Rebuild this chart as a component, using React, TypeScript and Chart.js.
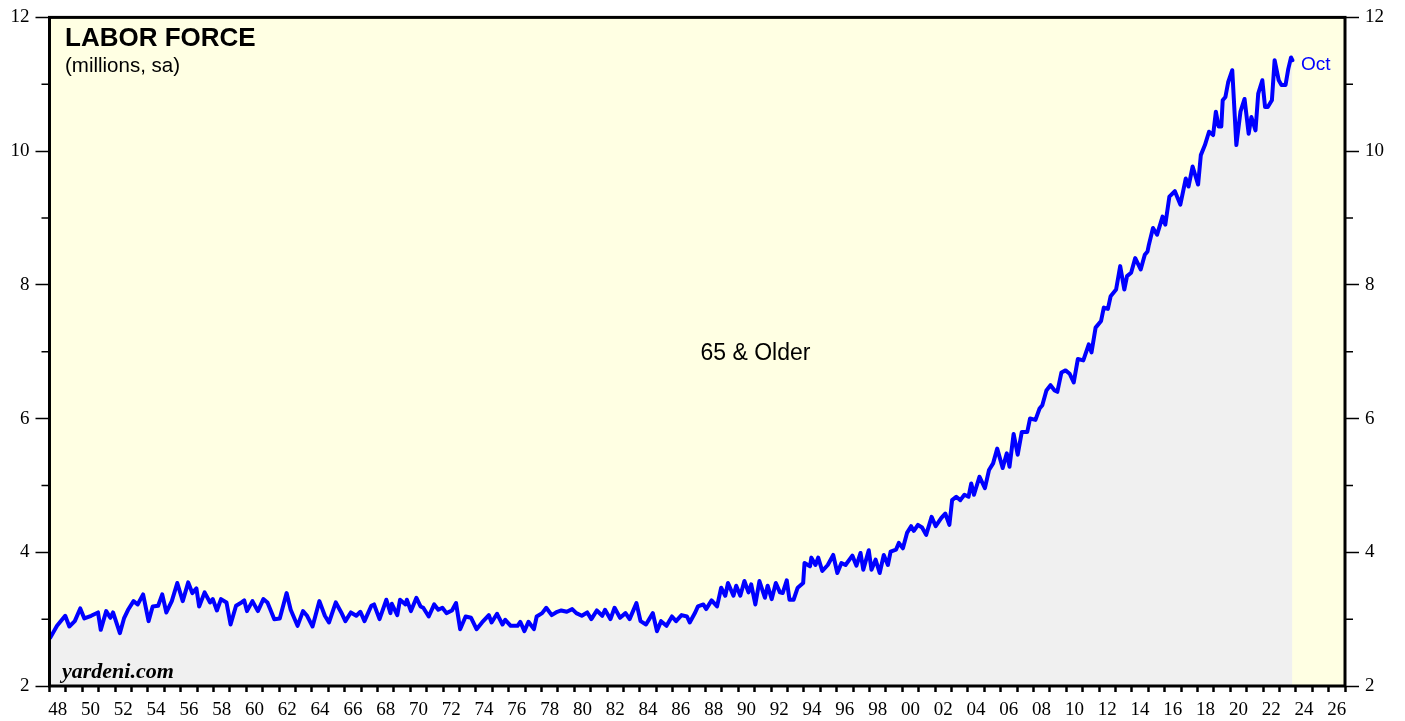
import React, { useEffect, useRef } from "react";
import { Chart, registerables } from "chart.js";

Chart.register(...registerables);

// ---- Data ----
const months: string[] = [
  "1948-01","1948-06","1948-12","1949-03","1949-07","1949-11","1950-02","1950-07","1950-12",
  "1951-02","1951-06","1951-09","1951-11","1952-04","1952-07","1952-10","1953-02","1953-05","1953-09",
  "1954-01","1954-04","1954-08","1954-11","1955-02","1955-06","1955-10","1956-02","1956-06","1956-09","1956-12",
  "1957-02","1957-06","1957-10","1957-12","1958-03","1958-06","1958-10","1959-01","1959-05","1959-09","1959-11",
  "1960-01","1960-05","1960-09","1961-01","1961-04","1961-09","1962-01","1962-06","1962-09",
  "1963-02","1963-06","1963-09","1964-01","1964-06","1964-10","1965-01","1965-06","1965-10",
  "1966-01","1966-05","1966-09","1966-12","1967-03","1967-08","1967-10",
  "1968-02","1968-07","1968-10","1968-11","1969-03","1969-05","1969-09","1969-10",
  "1970-01","1970-05","1970-08","1970-10","1971-02","1971-06","1971-09","1971-12",
  "1972-03","1972-07","1972-10","1973-01","1973-05","1973-09","1974-01","1974-05","1974-10","1974-12",
  "1975-04","1975-08","1975-10","1976-02","1976-07","1976-09","1976-12","1977-03","1977-07","1977-09",
  "1978-01","1978-04","1978-08","1978-12","1979-03","1979-07","1979-11","1980-02","1980-06","1980-10",
  "1981-01","1981-05","1981-09","1981-11","1982-03","1982-06","1982-10","1983-02","1983-05","1983-10",
  "1984-01","1984-05","1984-10","1985-01","1985-04","1985-08","1985-12","1986-03","1986-07","1986-11",
  "1987-01","1987-05","1987-07","1987-11","1988-01","1988-05","1988-09","1988-12",
  "1989-03","1989-05","1989-09","1989-11","1990-02","1990-05","1990-08","1990-10",
  "1991-01","1991-04","1991-08","1991-10","1992-01","1992-04","1992-07","1992-09","1992-12",
  "1993-02","1993-05","1993-08","1993-12","1994-01","1994-05","1994-06","1994-09","1994-11",
  "1995-02","1995-06","1995-10","1996-01","1996-04","1996-07","1996-12","1997-03","1997-06","1997-08","1997-12",
  "1998-02","1998-05","1998-08","1998-11","1999-02","1999-04","1999-08","1999-10",
  "2000-01","2000-04","2000-07","2000-09","2000-12","2001-03","2001-06","2001-10",
  "2002-01","2002-05","2002-08","2002-11","2003-01","2003-04","2003-07","2003-10",
  "2004-01","2004-03","2004-05","2004-09","2005-01","2005-04","2005-07","2005-10",
  "2006-02","2006-05","2006-07","2006-10","2007-01","2007-04","2007-08","2007-10",
  "2008-02","2008-05","2008-07","2008-10","2009-01","2009-04","2009-06","2009-09","2009-12",
  "2010-03","2010-06","2010-09","2011-01","2011-05","2011-07","2011-10",
  "2012-02","2012-04","2012-07","2012-09","2013-01","2013-04","2013-07","2013-09","2013-12",
  "2014-03","2014-07","2014-10","2014-12","2015-01","2015-04","2015-07","2015-11",
  "2016-01","2016-04","2016-08","2016-12","2017-04","2017-06","2017-09",
  "2018-01","2018-03","2018-06","2018-09","2018-12","2019-02","2019-04","2019-06","2019-07","2019-09","2019-11",
  "2020-02","2020-05","2020-08","2020-11","2021-02","2021-04","2021-07","2021-09","2021-12",
  "2022-02","2022-04","2022-07","2022-09","2022-12","2023-02","2023-05","2023-07","2023-09","2023-10",
];

const values: number[] = [
  2.72,2.90,3.05,2.89,2.97,3.16,3.01,3.05,3.10,
  2.84,3.12,3.02,3.10,2.79,3.01,3.14,3.27,3.22,3.37,
  2.97,3.19,3.20,3.37,3.10,3.27,3.54,3.27,3.55,3.39,3.46,
  3.19,3.40,3.25,3.30,3.13,3.30,3.25,2.92,3.20,3.25,3.28,
  3.12,3.27,3.12,3.30,3.25,3.00,3.01,3.39,3.14,
  2.90,3.12,3.05,2.89,3.27,3.05,2.95,3.25,3.10,
  2.97,3.10,3.05,3.11,2.97,3.20,3.22,
  3.00,3.29,3.09,3.23,3.06,3.29,3.22,3.29,
  3.12,3.32,3.19,3.17,3.04,3.22,3.14,3.17,
  3.09,3.13,3.24,2.85,3.04,3.02,2.85,2.95,3.06,2.95,
  3.08,2.92,2.99,2.90,2.90,2.96,2.82,2.96,2.85,3.04,
  3.09,3.17,3.06,3.11,3.13,3.11,3.15,3.09,3.05,3.10,
  3.00,3.13,3.05,3.14,3.00,3.17,3.02,3.09,3.00,3.24,
  2.97,2.92,3.09,2.82,2.97,2.90,3.04,2.97,3.06,3.04,
  2.95,3.10,3.19,3.22,3.15,3.28,3.19,3.47,
  3.35,3.54,3.35,3.50,3.35,3.57,3.40,3.52,
  3.22,3.57,3.32,3.50,3.30,3.54,3.40,3.39,3.58,
  3.29,3.29,3.47,3.54,3.84,3.79,3.92,3.81,3.92,
  3.72,3.81,3.96,3.69,3.84,3.81,3.95,3.80,3.99,3.74,4.03,
  3.74,3.89,3.69,3.96,3.81,4.01,4.04,4.14,
  4.06,4.29,4.39,4.32,4.41,4.37,4.26,4.53,
  4.39,4.51,4.58,4.41,4.78,4.83,4.78,4.86,
  4.83,5.03,4.86,5.13,4.96,5.23,5.33,5.55,
  5.26,5.48,5.28,5.77,5.46,5.80,5.80,6.00,
  5.98,6.15,6.20,6.42,6.50,6.42,6.40,6.69,6.72,
  6.67,6.54,6.89,6.87,7.11,6.99,7.36,
  7.46,7.66,7.64,7.83,7.93,8.28,7.93,8.13,8.18,
  8.40,8.23,8.45,8.50,8.60,8.85,8.75,9.02,
  8.90,9.32,9.40,9.20,9.59,9.47,9.77,
  9.50,9.94,10.09,10.29,10.24,10.59,10.37,10.37,10.76,10.81,11.03,
  11.21,10.09,10.59,10.78,10.26,10.51,10.31,10.86,11.06,
  10.66,10.66,10.76,11.36,11.06,10.99,10.99,11.23,11.40,11.36,
];

const yMajorTicks = [2, 4, 6, 8, 10, 12];
const yMinorTicks = [3, 5, 7, 9, 11];
const xStartYear = 1948;
const xEndYear = 2027;

const titleText = "LABOR FORCE";
const subtitleText = "(millions, sa)";
const seriesLabel = "65 & Older";
const lastLabel = "Oct";
const creditText = "yardeni.com";

const toYear = (m: string) => {
  const [y, mo] = m.split("-").map(Number);
  return y + (mo - 0.5) / 12;
};

export default function App() {
  const ref = useRef<HTMLCanvasElement>(null);

  useEffect(() => {
    const canvas = ref.current;
    if (!canvas) return;
    const serif = "'Liberation Serif', 'Times New Roman', serif";
    const sans = "'Liberation Sans', Arial, sans-serif";

    const decor = {
      id: "decor",
      beforeDraw(chart: any) {
        const { ctx, chartArea: a } = chart;
        ctx.save();
        ctx.fillStyle = "#ffffe3";
        ctx.fillRect(a.left, a.top, a.right - a.left, a.bottom - a.top);
        ctx.restore();
      },
      afterDraw(chart: any) {
        const { ctx, chartArea: a, scales } = chart;
        const xs = scales.x;
        const ys = scales.y;
        ctx.save();
        ctx.strokeStyle = "#000";
        ctx.lineWidth = 1.5;
        for (const v of yMinorTicks) {
          const py = ys.getPixelForValue(v);
          ctx.beginPath();
          ctx.moveTo(a.left - 8, py);
          ctx.lineTo(a.left, py);
          ctx.moveTo(a.right, py);
          ctx.lineTo(a.right + 8, py);
          ctx.stroke();
        }
        ctx.lineWidth = 3;
        ctx.strokeRect(a.left, a.top, a.right - a.left, a.bottom - a.top);

        ctx.fillStyle = "#000";
        ctx.textAlign = "left";
        ctx.textBaseline = "alphabetic";
        ctx.font = `bold 26px ${sans}`;
        ctx.fillText(titleText, a.left + 15.5, a.top + 29);
        ctx.font = `20.5px ${sans}`;
        ctx.fillText(subtitleText, a.left + 15.5, a.top + 55);

        ctx.font = `23px ${sans}`;
        ctx.textAlign = "center";
        ctx.fillText(seriesLabel, xs.getPixelForValue(1991.05), ys.getPixelForValue(6.88));

        ctx.textAlign = "left";
        ctx.font = `bold italic 22px ${serif}`;
        ctx.fillText(creditText, a.left + 12.5, a.bottom - 8);

        const lastX = xs.getPixelForValue(toYear(months[months.length - 1]));
        const lastY = ys.getPixelForValue(values[values.length - 1]);
        ctx.fillStyle = "#0000ff";
        ctx.font = `19px ${sans}`;
        ctx.fillText(lastLabel, lastX + 8.5, lastY + 10);
        ctx.restore();
      },
    };

    const yAxis = (position: "left" | "right", width: number) => ({
      type: "linear" as const,
      position,
      min: 2,
      max: 12,
      afterBuildTicks: (s: any) => {
        s.ticks = yMajorTicks.map((v) => ({ value: v }));
      },
      afterFit: (s: any) => {
        s.width = width;
      },
      grid: { drawOnChartArea: false, tickLength: 14, tickWidth: 1.5, tickColor: "#000" },
      border: { display: false },
      ticks: { padding: 6, color: "#000", font: { family: serif, size: 19 } },
    });

    const chart = new Chart(canvas, {
      type: "line",
      data: {
        datasets: [
          {
            label: seriesLabel,
            data: months.map((m, i) => ({ x: toYear(m), y: values[i] })),
            borderColor: "#0000ff",
            borderWidth: 4,
            backgroundColor: "#f0f0f0",
            fill: "start",
            pointRadius: 0,
            tension: 0,
            borderJoinStyle: "round",
            borderCapStyle: "round",
            yAxisID: "y",
          },
        ],
      },
      options: {
        animation: false,
        responsive: false,
        devicePixelRatio: 1,
        layout: { padding: { top: 15, left: 0, right: 0, bottom: 0 } },
        plugins: { legend: { display: false }, tooltip: { enabled: false } },
        scales: {
          x: {
            type: "linear",
            position: "bottom",
            min: xStartYear,
            max: xEndYear,
            afterBuildTicks: (s: any) => {
              const t: { value: number }[] = [];
              for (let yr = xStartYear; yr < xEndYear; yr++) t.push({ value: yr + 0.5 });
              s.ticks = t;
            },
            afterFit: (s: any) => {
              s.height = 35;
            },
            grid: { offset: true, drawOnChartArea: false, tickLength: 6, tickWidth: 2.5, tickColor: "#000" },
            border: { display: false },
            ticks: {
              autoSkip: false,
              maxRotation: 0,
              minRotation: 0,
              padding: 7,
              color: "#000",
              font: { family: serif, size: 19 },
              callback: (v: any) => {
                const yr = Math.floor(Number(v));
                return yr % 2 === 0 ? String(yr % 100).padStart(2, "0") : "";
              },
            },
          },
          y: yAxis("left", 49.5),
          y2: yAxis("right", 60),
        },
      } as any,
      plugins: [decor],
    });

    return () => chart.destroy();
  }, []);

  return (
    <div style={{ position: "absolute", left: 0, top: 0, width: 1405, height: 721, background: "#fff" }}>
      <canvas ref={ref} width={1405} height={721} style={{ display: "block" }} />
    </div>
  );
}
